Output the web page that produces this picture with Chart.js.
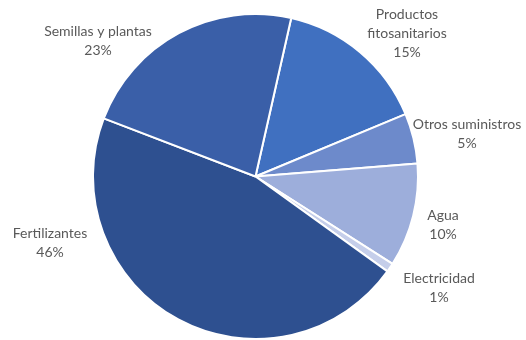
<!DOCTYPE html>
<html lang="es">
  <head>
    <meta charset="UTF-8" />
    <title>Costes</title>
    <script src="https://cdn.jsdelivr.net/npm/chart.js"></script>
    <style>
      html, body { margin: 0; padding: 0; background: #ffffff; }
      #wrap { width: 526px; height: 340px; position: relative; }
    </style>
  </head>
  <body>
    <div id="wrap"><canvas id="pieChart"></canvas></div>
    <script>
      // Datos
      const categorias = [
        ["Productos", "fitosanitarios"],
        ["Otros suministros"],
        ["Agua"],
        ["Electricidad"],
        ["Fertilizantes"],
        ["Semillas y plantas"],
      ];
      const valores = [15.2, 5.0, 10.3, 0.9, 45.9, 22.7];
      const colores = ["#4070c0", "#6d8acb", "#9daedb", "#c5ceea", "#2e5090", "#3a5fa8"];

      // Posiciones de las etiquetas (centro del bloque de texto)
      const posEtiquetas = [
        [407, 33], [467, 134], [443, 225], [439, 288], [50, 243], [98, 41],
      ];

      const etiquetas = {
        id: "etiquetas",
        afterDraw(chart) {
          const ctx = chart.ctx;
          const total = valores.reduce((a, b) => a + b, 0);
          ctx.save();
          ctx.font = "14px Lato";
          ctx.fillStyle = "#595959";
          ctx.textAlign = "center";
          ctx.textBaseline = "middle";
          const lh = 19;
          valores.forEach((v, i) => {
            const lineas = categorias[i].concat([Math.round((v / total) * 100) + "%"]);
            const [x, y] = posEtiquetas[i];
            const y0 = y - ((lineas.length - 1) * lh) / 2;
            lineas.forEach((t, j) => ctx.fillText(t, x, y0 + j * lh));
          });
          ctx.restore();
        },
      };

      new Chart(document.getElementById("pieChart"), {
        type: "pie",
        data: {
          labels: categorias.map((c) => c.join(" ")),
          datasets: [
            {
              data: valores,
              backgroundColor: colores,
              borderColor: "#ffffff",
              borderWidth: 2,
            },
          ],
        },
        options: {
          responsive: true,
          maintainAspectRatio: false,
          animation: false,
          rotation: 12.7,
          layout: { padding: { top: 13, bottom: 0, left: 92, right: 107 } },
          plugins: {
            legend: { display: false },
            tooltip: { enabled: false },
          },
        },
        plugins: [etiquetas],
      });
    </script>
  </body>
</html>
